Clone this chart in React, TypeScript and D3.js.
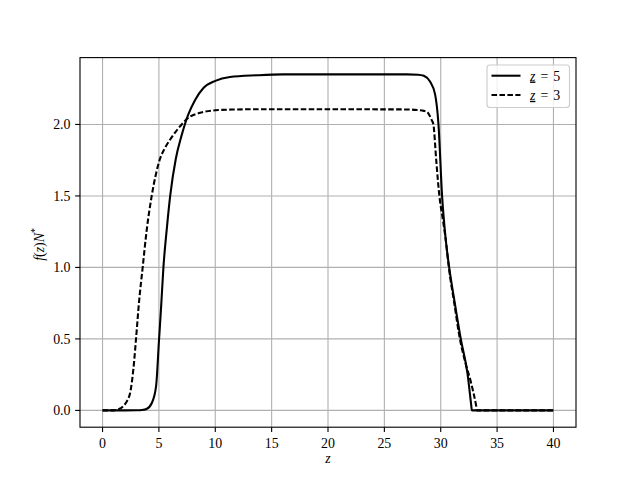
import React from 'react';
import * as d3 from 'd3';

// values
const zSolid = [0, 2, 3, 3.5, 3.9, 4.36, 4.75, 5.0, 5.2, 5.4, 5.7, 6.0, 6.5, 7.0, 7.3, 7.61, 8.2, 8.95, 10, 11.3, 13.7, 16, 20, 27, 28, 28.5, 29.05, 29.5, 29.8, 30.12, 30.45, 30.75, 31.25, 31.78, 32.37, 32.7, 32.76, 40];
const fSolid = [0, 0, 0.001, 0.003, 0.01, 0.05, 0.17, 0.48, 0.73, 1.0, 1.27, 1.5, 1.76, 1.92, 2.0, 2.07, 2.17, 2.255, 2.305, 2.332, 2.344, 2.35, 2.35, 2.35, 2.348, 2.34, 2.3, 2.21, 2.0, 1.5, 1.19, 1.0, 0.75, 0.5, 0.26, 0.04, 0, 0];

const zDashed = [0, 1.0, 1.3, 1.85, 2.2, 2.44, 2.75, 2.97, 3.25, 3.56, 3.9, 4.36, 4.7, 5.1, 5.5, 6.0, 6.5, 7.02, 7.5, 8.95, 10, 11.5, 13.4, 20, 27, 28, 28.5, 28.76, 29.2, 29.35, 29.6, 29.88, 30.2, 30.45, 30.72, 31.2, 31.7, 32.2, 32.67, 33.15, 33.22, 40];
const fDashed = [0, 0, 0.005, 0.03, 0.07, 0.12, 0.3, 0.5, 0.77, 1.0, 1.25, 1.5, 1.64, 1.76, 1.83, 1.895, 1.95, 2.0, 2.04, 2.087, 2.099, 2.104, 2.106, 2.106, 2.105, 2.1, 2.095, 2.09, 2.03, 2.0, 1.75, 1.5, 1.33, 1.19, 1.0, 0.75, 0.5, 0.33, 0.2, 0.03, 0, 0];

const seriesLabels = ['5', '3'];
const xTicks = [0, 5, 10, 15, 20, 25, 30, 35, 40];
const yTicks = [0, 0.5, 1.0, 1.5, 2.0];

const W = 640;
const H = 480;
const left = 80, right = 576, top = 57.6, bottom = 427.2;
const font = '"Liberation Serif", "DejaVu Serif", serif';
const fs = 13.9;

// matplotlib style 5% margins
const pad = ([a, b]: [number, number]) => {
  const m = (b - a) * 0.05;
  return [a - m, b + m];
};

export default function App() {
  const allZ = zSolid.concat(zDashed);
  const allF = fSolid.concat(fDashed);
  const x = d3.scaleLinear().domain(pad(d3.extent(allZ) as [number, number])).range([left, right]);
  const y = d3.scaleLinear().domain(pad(d3.extent(allF) as [number, number])).range([bottom, top]);

  const line = d3.line<[number, number]>()
    .x(d => x(d[0]))
    .y(d => y(d[1]))
    .curve(d3.curveMonotoneX);

  const solid = zSolid.map((z, i) => [z, fSolid[i]] as [number, number]);
  const dashed = zDashed.map((z, i) => [z, fDashed[i]] as [number, number]);

  const dash = '5.55,2.4';
  const lw = 2.08;

  // legend box
  const lgX = 487, lgY = 65, lgW = 82.5, lgH = 42.5;
  const rows = [75.7, 95];

  return (
    <svg width={W} height={H} style={{ position: 'absolute', left: 0, top: 0, background: '#fff' }}
      fontFamily={font} fontSize={fs}>
      <rect x={0} y={0} width={W} height={H} fill="#fff" />

      {/* grid */}
      <g stroke="#b0b0b0" strokeWidth={1.11}>
        {xTicks.map(t => <line key={'gx' + t} x1={x(t)} x2={x(t)} y1={top} y2={bottom} />)}
        {yTicks.map(t => <line key={'gy' + t} x1={left} x2={right} y1={y(t)} y2={y(t)} />)}
      </g>

      {/* data */}
      <path d={line(solid) ?? ''} fill="none" stroke="#000" strokeWidth={lw} strokeLinejoin="round" />
      <path d={line(dashed) ?? ''} fill="none" stroke="#000" strokeWidth={lw} strokeDasharray={dash} />

      {/* spines */}
      <rect x={left} y={top} width={right - left} height={bottom - top} fill="none" stroke="#000" strokeWidth={1.11} />

      {/* x ticks */}
      <g>
        {xTicks.map(t => (
          <g key={'xt' + t}>
            <line x1={x(t)} x2={x(t)} y1={bottom} y2={bottom + 4.86} stroke="#000" strokeWidth={1.11} />
            <text x={x(t)} y={447.5} textAnchor="middle">{t}</text>
          </g>
        ))}
      </g>

      {/* y ticks */}
      <g>
        {yTicks.map(t => (
          <g key={'yt' + t}>
            <line x1={left - 4.86} x2={left} y1={y(t)} y2={y(t)} stroke="#000" strokeWidth={1.11} />
            <text x={70.5} y={y(t) + 4.8} textAnchor="end">{t.toFixed(1)}</text>
          </g>
        ))}
      </g>

      {/* axis labels */}
      <text x={(left + right) / 2} y={463} textAnchor="middle" fontStyle="italic">z</text>
      <text transform={`translate(44,${(top + bottom) / 2 + 2}) rotate(-90)`} textAnchor="middle">
        <tspan fontStyle="italic">f</tspan>(<tspan fontStyle="italic">z</tspan>)<tspan fontStyle="italic">N</tspan>
        <tspan fontSize={10} dy={-6}>*</tspan>
      </text>

      {/* legend */}
      <rect x={lgX} y={lgY} width={lgW} height={lgH} rx={3} fill="#fff" fillOpacity={0.8} stroke="#cccccc" strokeWidth={1.11} />
      {seriesLabels.map((lab, i) => (
        <g key={'lg' + i}>
          <line x1={491.5} x2={520.5} y1={rows[i]} y2={rows[i]} stroke="#000" strokeWidth={lw}
            strokeDasharray={i === 1 ? dash : undefined} />
          <text x={530} y={rows[i] + 4.8}>
            <tspan fontStyle="italic" style={{ textDecoration: 'underline' }}>z</tspan>
            <tspan dx={5}>=</tspan>
            <tspan dx={5}>{lab}</tspan>
          </text>
        </g>
      ))}
    </svg>
  );
}
